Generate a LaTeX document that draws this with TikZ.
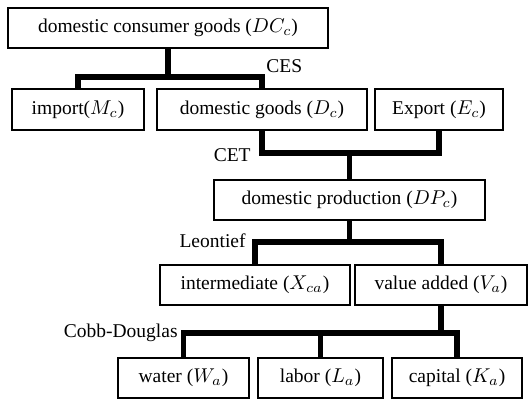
\documentclass[tikz,border=0pt]{standalone}
\usepackage{amsmath}
\usepackage{fontspec}
\setmainfont{Liberation Serif}
\usepackage{tikz}
\usetikzlibrary{positioning}
\tikzset{
    goods/.style={
           rectangle,
           draw=black, line width=0.7pt,
           inner sep=2pt,
           text centered,
           font=\fontsize{9.75pt}{11pt}\selectfont,
           },
    nest/.style={
           line width=2.6pt,
           line join=miter,
           },
    fn/.style={
           inner sep=0pt,
           font=\fontsize{9.75pt}{11pt}\selectfont,
           },
}

\begin{document}
\begin{tikzpicture}[x=0.5pt,y=-0.5pt]
 \useasboundingbox (0,0) rectangle (528,401);

 % top level: consumer goods
 \node[goods, minimum width=160pt, minimum height=20pt] (DC) at (168,28)
 {domestic consumer goods ($DC_c$)};

 % second row: import, domestic, export
 \node[goods, minimum width=66pt, minimum height=20.5pt] (IM) at (78,109.5)
 {import($M_c$)};
 \node[goods, minimum width=105pt, minimum height=20.5pt] (DG) at (262,109.5)
 {domestic goods ($D_c$)};
 \node[goods, minimum width=64pt, minimum height=20.5pt] (EX) at (439,109.5)
 {Export ($E_c$)};

 % production
 \node[goods, minimum width=135.5pt, minimum height=20pt] (DP) at (349.5,200)
 {domestic production ($DP_c$)};

 % intermediate and value added
 \node[goods, minimum width=95pt, minimum height=20pt] (XI) at (255,285)
 {intermediate ($X_{ca}$)};
 \node[goods, minimum width=86pt, minimum height=20pt] (VA) at (441,285)
 {value added ($V_a$)};

 % factors
 \node[goods, minimum width=65.5pt, minimum height=20pt] (WA) at (183.5,378)
 {water ($W_a$)};
 \node[goods, minimum width=62.5pt, minimum height=20pt] (LA) at (320.5,378)
 {labor ($L_a$)};
 \node[goods, minimum width=65pt, minimum height=20pt] (KA) at (457,378)
 {capital ($K_a$)};

 % junctions of the nests
 \coordinate (ces) at (170,77);
 \coordinate (cet) at (350,153);
 \coordinate (leo) at (350,242);
 \coordinate (cd)  at (443,333);

 % function names
 \node[fn, anchor=base west] (CESlab) at (266,72) {CES};
 \node[fn, anchor=base east] (CETlab) at (251,161) {CET};
 \node[fn, anchor=base east] (LEOlab) at (246,247) {Leontief};
 \node[fn, anchor=base east] (CDlab)  at (178,337) {Cobb-Douglas};

 % draw the nesting bars
 \draw[nest] (DC.south) -- (DC.south |- ces);
 \draw[nest] (IM.north) |- (DG.north |- ces) -- (DG.north);

 \draw[nest] (DG.south) |- (EX.south |- cet) -- (EX.south);
 \draw[nest] (DP.north) -- (DP.north |- cet);

 \draw[nest] (DP.south) -- (DP.south |- leo);
 \draw[nest] (XI.north) |- (VA.north |- leo) -- (VA.north);

 \draw[nest] (VA.south) -- (VA.south |- cd);
 \draw[nest] (WA.north) |- (KA.north |- cd) -- (KA.north);
 \draw[nest] (LA.north) -- (LA.north |- cd);

\end{tikzpicture}
\end{document}
